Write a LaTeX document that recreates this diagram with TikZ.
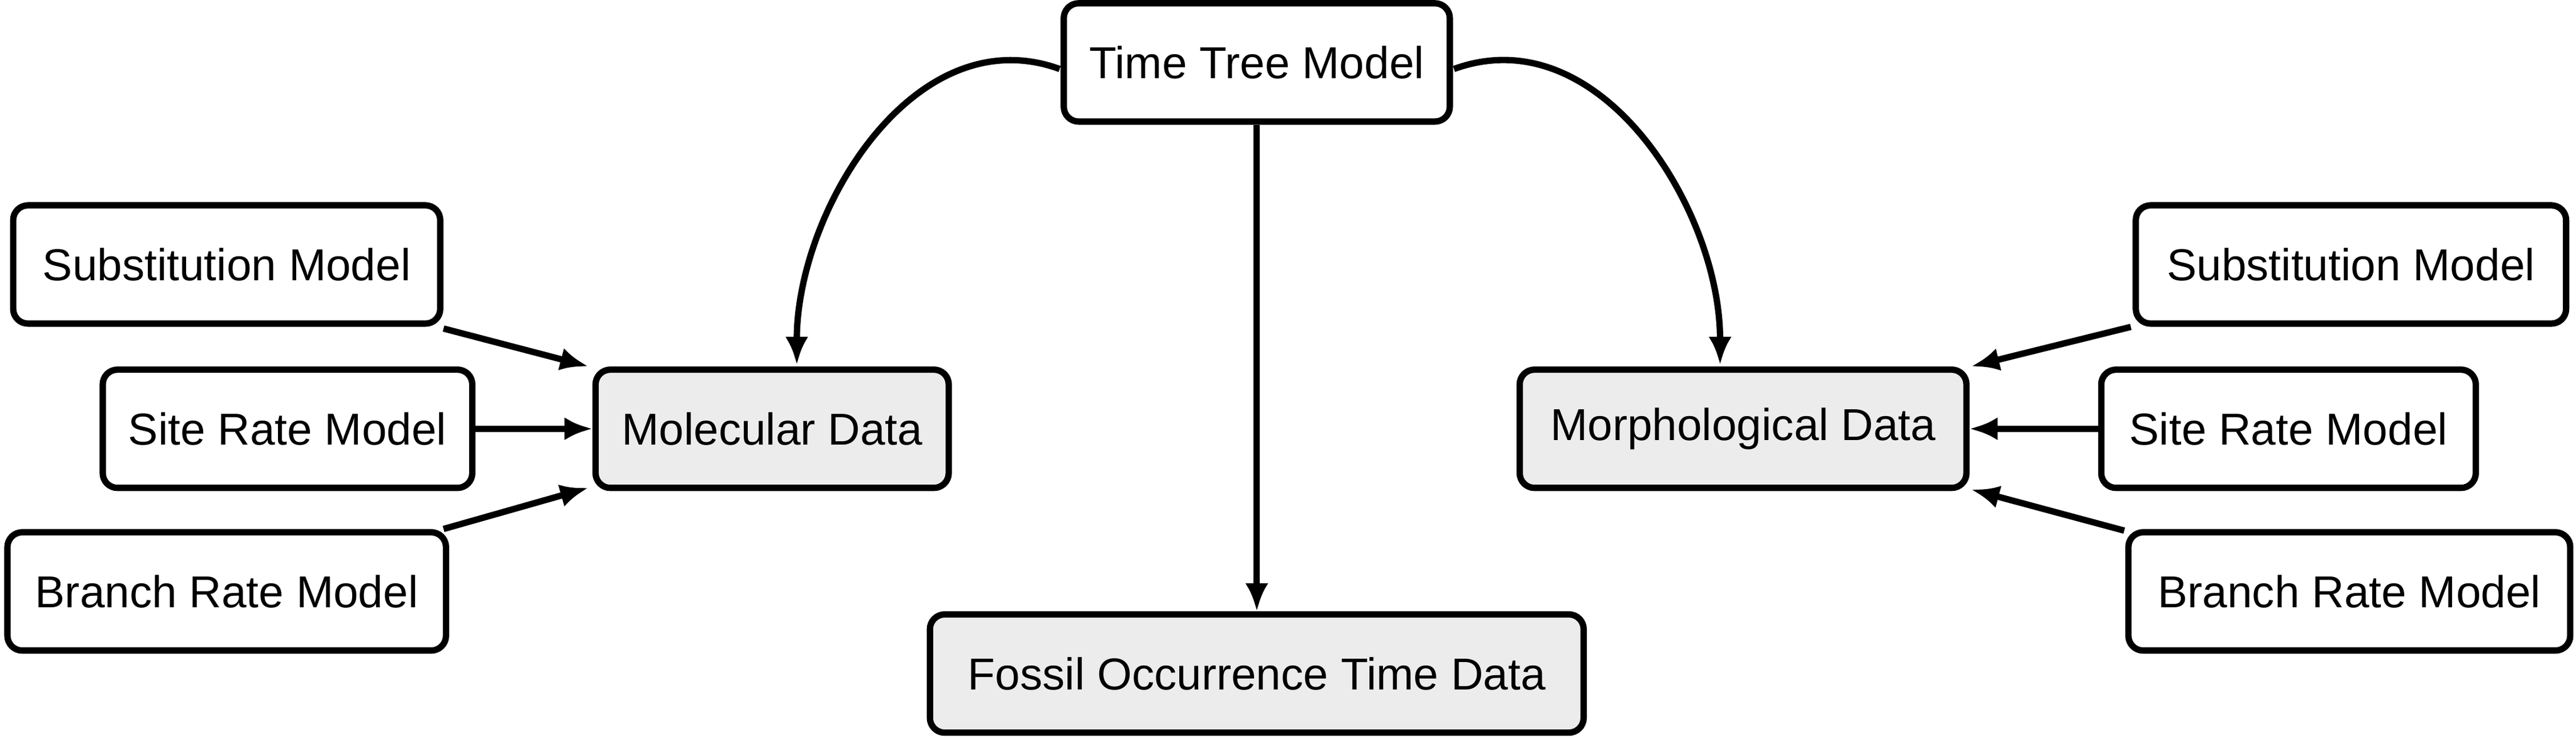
\documentclass[tikz,border=0pt]{standalone}
\usepackage{fontspec}
\setmainfont{Liberation Sans}
\usetikzlibrary{arrows.meta}
\begin{document}
\begin{tikzpicture}[x=0.02cm,y=-0.02cm,
  box/.style={draw,line width=2.2pt,rounded corners=0.18cm,inner sep=0pt,font=\fontsize{15.5}{18}\selectfont},
  data/.style={box,fill=gray!15},
  arr/.style={line width=2.2pt,-{Latex[length=0.34cm,width=0.28cm]}}]
\useasboundingbox (0,0) rectangle (1568,449);
\node[box,minimum width=4.7cm,minimum height=1.44cm] (tt) at (765,38) {Time Tree Model};
\node[box,minimum width=5.2cm,minimum height=1.44cm] (sl) at (138,161) {Substitution Model};
\node[box,minimum width=4.5cm,minimum height=1.44cm] (rl) at (175,261) {Site Rate Model};
\node[box,minimum width=5.34cm,minimum height=1.44cm] (bl) at (138,360) {Branch Rate Model};
\node[data,minimum width=4.3cm,minimum height=1.44cm] (md) at (470,261) {Molecular Data};
\node[data,minimum width=7.96cm,minimum height=1.44cm] (fo) at (765,410) {Fossil Occurrence Time Data};
\node[data,minimum width=5.44cm,minimum height=1.44cm] (mo) at (1061,261) {Morphological Data};
\node[box,minimum width=5.24cm,minimum height=1.44cm] (sr) at (1431,161) {Substitution Model};
\node[box,minimum width=4.56cm,minimum height=1.44cm] (rr) at (1393,261) {Site Rate Model};
\node[box,minimum width=5.38cm,minimum height=1.44cm] (br) at (1430,360) {Branch Rate Model};
\coordinate (a1) at (270,200); \coordinate (a2) at (358,223);
\coordinate (b1) at (270,322); \coordinate (b2) at (358,297);
\coordinate (c1) at (1297,199); \coordinate (c2) at (1200,223);
\coordinate (d1) at (1293,323); \coordinate (d2) at (1200,298);
\coordinate (m1) at (645,42); \coordinate (m2) at (485,222);
\coordinate (n1) at (885,42); \coordinate (n2) at (1047,222);
\draw[arr] (a1) -- (a2);
\draw[arr] (rl) -- (md);
\draw[arr] (b1) -- (b2);
\draw[arr] (c1) -- (c2);
\draw[arr] (rr) -- (mo);
\draw[arr] (d1) -- (d2);
\draw[arr] (m1) to[out=160,in=90] (m2);
\draw[arr] (n1) to[out=20,in=90] (n2);
\draw[arr] (tt) -- (fo);
\end{tikzpicture}
\end{document}
